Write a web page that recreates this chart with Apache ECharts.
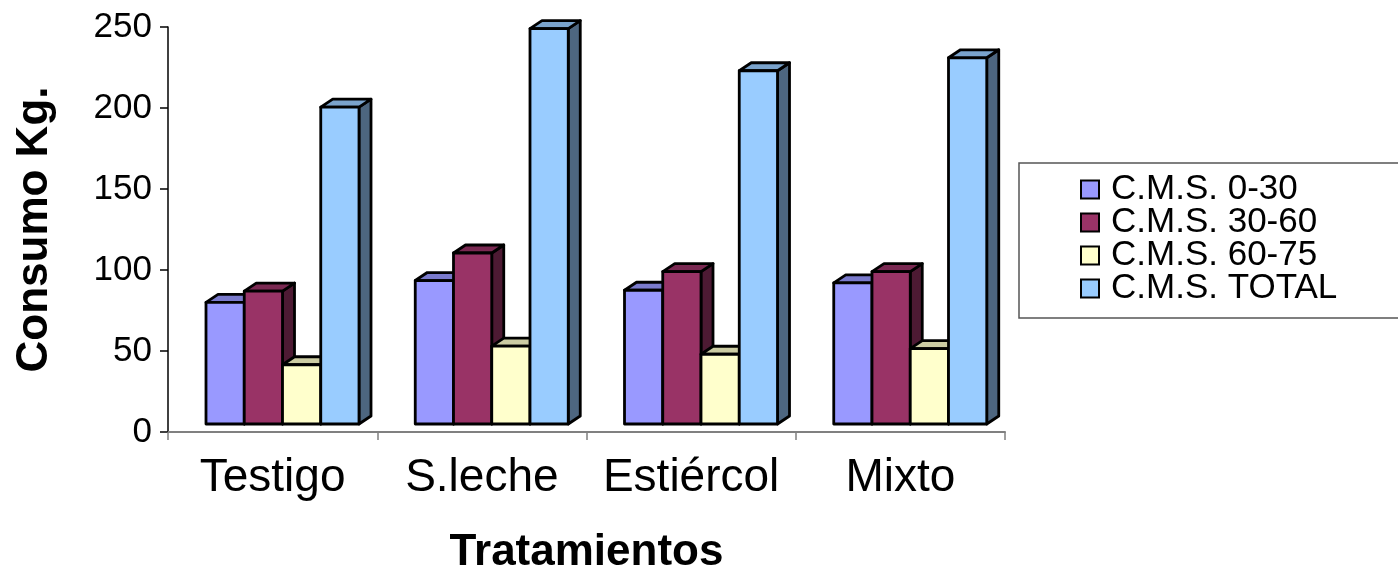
<!DOCTYPE html>
<html>
<head>
<meta charset="utf-8">
<script src="https://cdn.jsdelivr.net/npm/echarts@6/dist/echarts.min.js"></script>
<style>
  html, body { margin: 0; padding: 0; background: #fff; }
  #chart { width: 1398px; height: 571px; }
</style>
</head>
<body>
<div id="chart"></div>
<script>
// Consumo de materia seca (kg) por tratamiento
const categories = ['Testigo', 'S.leche', 'Estiércol', 'Mixto'];
const seriesNames = ['C.M.S. 0-30', 'C.M.S. 30-60', 'C.M.S. 60-75', 'C.M.S. TOTAL'];
const cms0_30 = [80, 93.5, 87.5, 92];
const cms30_60 = [87, 110.5, 99, 99];
const cms60_75 = [41.5, 53, 48, 51.5];
const cmsTotal = [200.5, 249, 223, 231];
const yTicks = [0, 50, 100, 150, 200, 250];

const seriesValues = [cms0_30, cms30_60, cms60_75, cmsTotal];
const frontColors = ['#9999FF', '#993366', '#FFFFCC', '#99CCFF'];

const FONT = '"Liberation Sans", Arial, sans-serif';
const DEPTH_X = 12;     // depth projection of each column
const DEPTH_Y = -8;
const BASE_LIFT = 8;    // column floor sits slightly above the category axis line
const GROUP_START = 0.1816; // fraction of band before the first column
const COL_WIDTH = 0.1828;   // fraction of band per column

function shade(hex, f) {
  const n = parseInt(hex.slice(1), 16);
  const r = Math.round(((n >> 16) & 255) * f);
  const g = Math.round(((n >> 8) & 255) * f);
  const b = Math.round((n & 255) * f);
  return 'rgb(' + r + ',' + g + ',' + b + ')';
}

function makeRenderer(k) {
  const color = frontColors[k];
  return function (params, api) {
    const idx = api.value(0);
    const val = api.value(1);
    const band = api.size([1, 0])[0];
    const base = api.coord([idx, 0]);
    const start = base[0] - band / 2;
    const w = band * COL_WIDTH;
    const x0 = start + band * GROUP_START + k * w;
    const x1 = x0 + w;
    const yTop = api.coord([idx, val])[1];
    const yBot = base[1] - BASE_LIFT;
    const stroke = { stroke: '#000', lineWidth: 2.8, lineJoin: 'round' };
    return {
      type: 'group',
      children: [
        {
          type: 'polygon',
          shape: { points: [[x1, yTop], [x1 + DEPTH_X, yTop + DEPTH_Y], [x1 + DEPTH_X, yBot + DEPTH_Y], [x1, yBot]] },
          style: Object.assign({ fill: shade(color, 0.5) }, stroke)
        },
        {
          type: 'polygon',
          shape: { points: [[x0, yTop], [x0 + DEPTH_X, yTop + DEPTH_Y], [x1 + DEPTH_X, yTop + DEPTH_Y], [x1, yTop]] },
          style: Object.assign({ fill: shade(color, 0.8) }, stroke)
        },
        {
          type: 'rect',
          shape: { x: x0, y: yTop, width: w, height: yBot - yTop },
          style: Object.assign({ fill: color }, stroke)
        }
      ]
    };
  };
}

const series = seriesNames.map(function (name, k) {
  return {
    name: name,
    type: 'custom',
    renderItem: makeRenderer(k),
    itemStyle: { color: frontColors[k] },
    encode: { x: 0, y: 1 },
    data: seriesValues[k].map(function (v, i) { return [i, v]; })
  };
});

const chart = echarts.init(document.getElementById('chart'), null, { renderer: 'canvas' });
chart.setOption({
  animation: false,
  backgroundColor: '#fff',
  grid: { left: 168, right: 393, top: 27, bottom: 139, containLabel: false, outerBoundsMode: 'none' },
  legend: {
    orient: 'vertical',
    left: 1019,
    top: 163,
    padding: [9, 80, 12, 61],
    itemGap: -2,
    itemWidth: 18,
    itemHeight: 18,
    icon: 'rect',
    selectedMode: false,
    borderColor: '#555',
    borderWidth: 1.5,
    itemStyle: { borderColor: '#000', borderWidth: 2 },
    textStyle: { fontFamily: FONT, fontSize: 35, color: '#000', lineHeight: 33, padding: [0, 0, 0, 7] },
    data: seriesNames
  },
  xAxis: {
    type: 'category',
    data: categories,
    name: 'Tratamientos',
    nameLocation: 'middle',
    nameGap: 99,
    nameTextStyle: { fontFamily: FONT, fontSize: 44, fontWeight: 'bold', color: '#000' },
    axisLine: { show: true, lineStyle: { color: '#808080', width: 2 } },
    axisTick: { show: true, interval: 0, length: 8, lineStyle: { color: '#808080', width: 1.5 } },
    axisLabel: { interval: 0, fontFamily: FONT, fontSize: 46, color: '#000', margin: 23 },
    splitLine: { show: false }
  },
  yAxis: {
    type: 'value',
    min: yTicks[0],
    max: yTicks[yTicks.length - 1],
    interval: yTicks[1] - yTicks[0],
    name: 'Consumo Kg.',
    nameLocation: 'middle',
    nameGap: 111,
    nameRotate: 90,
    nameTextStyle: { fontFamily: FONT, fontSize: 44, fontWeight: 'bold', color: '#000' },
    axisLine: { show: true, lineStyle: { color: '#000', width: 1.5 } },
    axisTick: { show: true, length: 8, lineStyle: { color: '#000', width: 1.5 } },
    axisLabel: { fontFamily: FONT, fontSize: 35, color: '#000', margin: 16 },
    splitLine: { show: false }
  },
  series: series
});
</script>
</body>
</html>
